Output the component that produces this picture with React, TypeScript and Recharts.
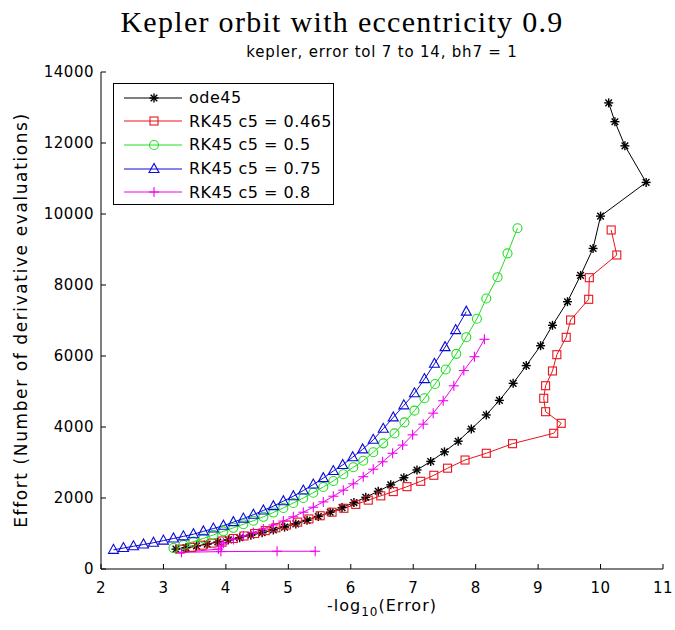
import React from 'react';
import { LineChart, Line, XAxis, YAxis, Legend } from 'recharts';

const xTicks = [2, 3, 4, 5, 6, 7, 8, 9, 10, 11];
const yTicks = [0, 2000, 4000, 6000, 8000, 10000, 12000, 14000];

// ode45 (black *)
const ode45X = [3.2, 3.36, 3.53, 3.7, 3.87, 4.04, 4.22, 4.4, 4.58, 4.76, 4.94, 5.12, 5.3, 5.48, 5.67, 5.86, 6.05, 6.24, 6.44, 6.64, 6.85, 7.06, 7.28, 7.5, 7.72, 7.93, 8.17, 8.38, 8.6, 8.81, 9.04, 9.23, 9.47, 9.68, 9.88, 10.0, 10.73, 10.39, 10.23, 10.13];
const ode45Y = [560, 600, 650, 700, 760, 820, 880, 950, 1020, 1100, 1180, 1270, 1370, 1480, 1600, 1730, 1870, 2020, 2190, 2370, 2570, 2790, 3030, 3300, 3600, 3944, 4340, 4750, 5230, 5730, 6290, 6865, 7530, 8270, 9030, 9940, 10890, 11920, 12600, 13130];

// RK45 c5 = 0.465 (red squares)
const rk465X = [3.27, 3.45, 3.62, 3.78, 3.95, 4.12, 4.29, 4.46, 4.63, 4.8, 4.97, 5.15, 5.33, 5.51, 5.7, 5.89, 6.08, 6.28, 6.48, 6.68, 6.9, 7.12, 7.33, 7.55, 7.83, 8.17, 8.59, 9.25, 9.37, 9.12, 9.09, 9.12, 9.23, 9.3, 9.45, 9.52, 9.81, 9.82, 10.26, 10.17];
const rk465Y = [560, 610, 670, 730, 790, 860, 930, 1000, 1080, 1160, 1240, 1320, 1410, 1500, 1600, 1710, 1820, 1940, 2060, 2180, 2320, 2470, 2640, 2840, 3070, 3260, 3530, 3823, 4104, 4431, 4809, 5163, 5578, 6037, 6527, 7014, 7597, 8206, 8845, 9550];

// RK45 c5 = 0.5 (green circles)
const rk50X = [3.16, 3.32, 3.48, 3.64, 3.8, 3.96, 4.12, 4.28, 4.44, 4.6, 4.76, 4.92, 5.08, 5.24, 5.4, 5.56, 5.72, 5.88, 6.04, 6.2, 6.36, 6.52, 6.7, 6.86, 7.02, 7.18, 7.35, 7.52, 7.69, 7.85, 8.02, 8.17, 8.35, 8.51, 8.67];
const rk50Y = [590, 680, 770, 860, 960, 1060, 1160, 1260, 1360, 1470, 1590, 1720, 1860, 2000, 2150, 2310, 2480, 2670, 2865, 3050, 3290, 3540, 3820, 4130, 4460, 4810, 5210, 5620, 6060, 6530, 7050, 7620, 8220, 8890, 9600];

// RK45 c5 = 0.75 (blue triangles)
const rk75X = [2.2, 2.36, 2.52, 2.68, 2.84, 3.0, 3.16, 3.32, 3.48, 3.64, 3.8, 3.96, 4.12, 4.28, 4.44, 4.6, 4.76, 4.92, 5.08, 5.24, 5.4, 5.56, 5.72, 5.87, 6.03, 6.19, 6.36, 6.52, 6.68, 6.85, 7.02, 7.18, 7.34, 7.51, 7.68, 7.85];
const rk75Y = [540, 590, 640, 690, 740, 800, 860, 920, 980, 1060, 1140, 1220, 1320, 1420, 1530, 1650, 1770, 1910, 2050, 2210, 2380, 2560, 2760, 2930, 3150, 3370, 3640, 3950, 4270, 4610, 4950, 5350, 5780, 6250, 6730, 7250];

// RK45 c5 = 0.8 (magenta +)
const rk80X = [5.43, 4.82, 3.92, 3.29, 3.88, 3.93, 3.96, 4.12, 4.28, 4.44, 4.6, 4.76, 4.92, 5.08, 5.24, 5.4, 5.56, 5.72, 5.88, 6.04, 6.2, 6.36, 6.51, 6.67, 6.83, 6.99, 7.16, 7.32, 7.48, 7.65, 7.81, 7.98, 8.14];
const rk80Y = [500, 500, 490, 470, 560, 640, 730, 830, 930, 1030, 1130, 1240, 1350, 1470, 1600, 1740, 1890, 2050, 2220, 2400, 2600, 2810, 3020, 3260, 3490, 3780, 4080, 4390, 4740, 5160, 5590, 5980, 6470];

const zip = (xs: number[], ys: number[]) => xs.map((x, i) => ({ x, y: ys[i] }));

type Shape = 'star' | 'square' | 'circle' | 'triangle' | 'plus';

const series: { name: string; color: string; shape: Shape; data: { x: number; y: number }[] }[] = [
  { name: 'ode45', color: '#000000', shape: 'star', data: zip(ode45X, ode45Y) },
  { name: 'RK45 c5 = 0.465', color: '#e8141e', shape: 'square', data: zip(rk465X, rk465Y) },
  { name: 'RK45 c5 = 0.5', color: '#22dd22', shape: 'circle', data: zip(rk50X, rk50Y) },
  { name: 'RK45 c5 = 0.75', color: '#0a0ad8', shape: 'triangle', data: zip(rk75X, rk75Y) },
  { name: 'RK45 c5 = 0.8', color: '#f000f0', shape: 'plus', data: zip(rk80X, rk80Y) },
];

const sans = 'DejaVu Sans';

const Marker = ({ shape, cx, cy, color }: { shape: Shape; cx: number; cy: number; color: string }) => {
  const sw = 1.1;
  switch (shape) {
    case 'star':
      return (
        <g stroke={color} strokeWidth={1.4}>
          <line x1={cx - 4.5} y1={cy} x2={cx + 4.5} y2={cy} />
          <line x1={cx} y1={cy - 4.5} x2={cx} y2={cy + 4.5} />
          <line x1={cx - 3.3} y1={cy - 3.3} x2={cx + 3.3} y2={cy + 3.3} />
          <line x1={cx - 3.3} y1={cy + 3.3} x2={cx + 3.3} y2={cy - 3.3} />
        </g>
      );
    case 'square':
      return <rect x={cx - 4} y={cy - 4} width={8} height={8} fill="none" stroke={color} strokeWidth={sw} />;
    case 'circle':
      return <circle cx={cx} cy={cy} r={4.5} fill="none" stroke={color} strokeWidth={sw} />;
    case 'triangle':
      return (
        <polygon
          points={`${cx},${cy - 5.5} ${cx - 5},${cy + 3.5} ${cx + 5},${cy + 3.5}`}
          fill="none"
          stroke={color}
          strokeWidth={sw}
        />
      );
    default:
      return (
        <g stroke={color} strokeWidth={sw}>
          <line x1={cx - 5} y1={cy} x2={cx + 5} y2={cy} />
          <line x1={cx} y1={cy - 5} x2={cx} y2={cy + 5} />
        </g>
      );
  }
};

const LegendBox = () => (
  <div
    style={{
      border: '1px solid #000',
      background: '#fff',
      width: 221,
      height: 122,
      boxSizing: 'border-box',
      paddingTop: 2,
    }}
  >
    {series.map((s) => (
      <div key={s.name} style={{ height: 23.6, display: 'flex', alignItems: 'center' }}>
        <svg width={72} height={20} style={{ display: 'block' }}>
          <line x1={10} y1={10} x2={68} y2={10} stroke={s.color} strokeWidth={1} />
          <Marker shape={s.shape} cx={40} cy={10} color={s.color} />
        </svg>
        <span
          style={{ fontFamily: sans, fontSize: 16, letterSpacing: 0.5, color: '#000', marginLeft: 3, whiteSpace: 'nowrap' }}
        >
          {s.name}
        </span>
      </div>
    ))}
  </div>
);

const YLabel = () => (
  <text
    x={27}
    y={320}
    transform="rotate(-90 27 320)"
    textAnchor="middle"
    fontFamily={sans}
    fontSize={17}
    letterSpacing={1.6}
    fill="#000"
  >
    Effort (Number of derivative evaluations)
  </text>
);

const XLabel = () => (
  <text x={382} y={611} textAnchor="middle" fontFamily={sans} fontSize={16} letterSpacing={1} fill="#000">
    <tspan>-log</tspan>
    <tspan dy={5} fontSize={12}>10</tspan>
    <tspan dy={-5}>(Error)</tspan>
  </text>
);

const tickStyle = { fill: '#000', fontSize: 15, fontFamily: sans, letterSpacing: 0.5 };
const axisStroke = { stroke: '#000', strokeWidth: 1 };

export default function App() {
  return (
    <div style={{ position: 'absolute', left: 0, top: 0, width: 675, height: 630, background: '#fff' }}>
      <LineChart width={675} height={630} margin={{ top: 72, right: 12, bottom: 0, left: 41 }}>
        <XAxis
          xAxisId="b"
          type="number"
          dataKey="x"
          domain={[2, 11]}
          ticks={xTicks}
          interval={0}
          allowDataOverflow
          height={61}
          tickSize={-5}
          tickMargin={18}
          tick={tickStyle}
          axisLine={axisStroke}
          tickLine={axisStroke}
          label={<XLabel />}
        />
        <XAxis
          xAxisId="t"
          orientation="top"
          type="number"
          dataKey="x"
          domain={[2, 11]}
          ticks={xTicks}
          interval={0}
          allowDataOverflow
          height={0}
          tickSize={-5}
          tickFormatter={() => ''}
          axisLine={axisStroke}
          tickLine={axisStroke}
        />
        <YAxis
          yAxisId="l"
          type="number"
          domain={[0, 14000]}
          ticks={yTicks}
          interval={0}
          allowDataOverflow
          width={60}
          tickSize={-5}
          tickMargin={12}
          tick={tickStyle}
          axisLine={axisStroke}
          tickLine={axisStroke}
          label={<YLabel />}
        />
        <YAxis
          yAxisId="r"
          orientation="right"
          type="number"
          domain={[0, 14000]}
          ticks={yTicks}
          interval={0}
          allowDataOverflow
          width={0}
          tickSize={-5}
          tickFormatter={() => ''}
          axisLine={axisStroke}
          tickLine={axisStroke}
        />
        {series.map((s) => (
          <Line
            key={s.name}
            xAxisId="b"
            yAxisId="l"
            data={s.data}
            dataKey="y"
            name={s.name}
            type="linear"
            stroke={s.color}
            strokeWidth={1}
            isAnimationActive={false}
            activeDot={false}
            dot={(p: any) => <Marker key={`${s.name}-${p.index}`} shape={s.shape} cx={p.cx} cy={p.cy} color={s.color} />}
          />
        ))}
        <Legend
          layout="vertical"
          align="center"
          verticalAlign="middle"
          content={<LegendBox />}
          wrapperStyle={{ left: 113, top: 83, width: 221 }}
        />
      </LineChart>
      <svg width={675} height={70} style={{ position: 'absolute', left: 0, top: 0, pointerEvents: 'none' }}>
        <text x={342} y={32} textAnchor="middle" fontFamily="Liberation Serif" fontSize={30} letterSpacing={1.3} fill="#000">
          Kepler orbit with eccentricity 0.9
        </text>
        <text x={382} y={57} textAnchor="middle" fontFamily={sans} fontSize={15} letterSpacing={0.8} fill="#000">
          kepler, error tol 7 to 14, bh7 = 1
        </text>
      </svg>
    </div>
  );
}
